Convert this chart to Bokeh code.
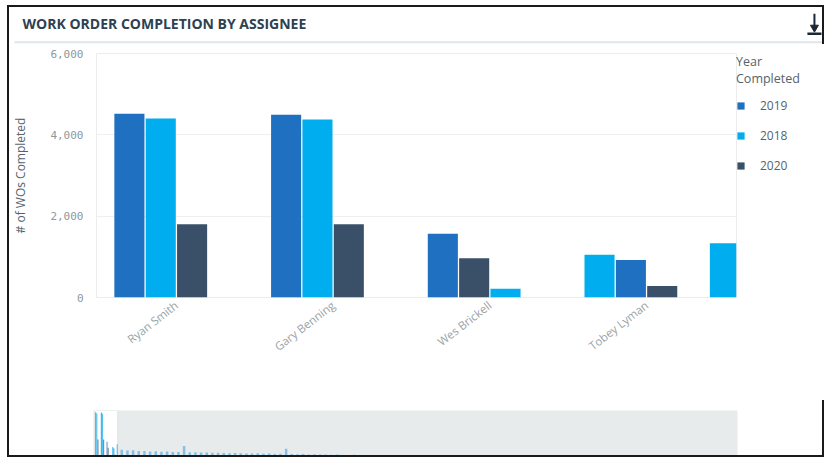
from bokeh.plotting import figure
from bokeh.models import (Range1d, FixedTicker, NumeralTickFormatter, ColumnDataSource,
                          Legend, LegendItem, BoxAnnotation)
from bokeh.core.properties import value
from bokeh.embed import file_html
from bokeh.resources import INLINE

# ---------------- data ----------------
assignees = ["Ryan Smith", "Gary Benning", "Wes Brickell", "Tobey Lyman", ""]
years = ["2019", "2018", "2020"]
wo_2019 = [4520, 4495, 1570, 925, None]
wo_2018 = [4400, 4380, 215, 1050, 1335]
wo_2020 = [1800, 1800, 965, 280, None]
y_ticks = [0, 2000, 4000, 6000]
# navigator: remaining assignees (tallest bar each, rough estimates)
nav_other_max = [780, 700, 720, 650, 660, 600, 630, 580, 610, 560, 540, 1150,
                 520, 530, 490, 500, 470, 480, 450, 430, 460, 420, 410, 400,
                 420, 380, 390, 360, 370, 880, 350, 330, 340, 310, 320, 300,
                 290, 280, 300, 260, 250, 270, 240, 230, 220, 240, 210, 200,
                 190, 200, 180, 170, 160, 170, 150, 140]

# ---------------- style / layout constants ----------------
colors = {"2019": "#1f70c1", "2018": "#00aeef", "2020": "#3a5068"}
BAR_W = 0.96
GROUP_GAPS = [2, 2, 2, 1]
X_VIEW = (-1.05, 19.37)
LABEL_SHIFT = 0.5
FONT = "Open Sans"
W = 813
BL, BR = 84, 89
EDGE = "2px solid #1a1a1a"

series = {"2019": wo_2019, "2018": wo_2018, "2020": wo_2020}
rows = {y: {"x": [], "top": []} for y in years}
centers = []
slot = 0
for gi, name in enumerate(assignees):
    bars = [(series[y][gi], y) for y in years if series[y][gi] is not None]
    bars.sort(key=lambda b: -b[0])
    start = slot
    for v, y in bars:
        rows[y]["x"].append(slot)
        rows[y]["top"].append(v)
        slot += 1
    centers.append((start + slot - 1) / 2)
    if gi < len(GROUP_GAPS):
        slot += GROUP_GAPS[gi]
last_slot = slot

# ---------------- header ----------------
h = figure(width=W, height=37, x_range=Range1d(0, W), y_range=Range1d(0, 37),
           min_border=0, x_axis_location=None, y_axis_location=None,
           output_backend="svg", toolbar_location=None,
           styles={"border-top": EDGE, "border-left": EDGE, "border-right": EDGE,
                   "margin-left": "7px", "margin-top": "5px", "box-sizing": "content-box"})
h.grid.visible = False
h.outline_line_color = None
h.text(x=[13], y=[21.5], text=["WORK ORDER COMPLETION BY ASSIGNEE"],
       text_font=value(FONT), text_font_style="bold", text_font_size="14px",
       text_color="#2d4150", text_baseline="middle")
h.segment(x0=[5], y0=[4], x1=[W], y1=[4], line_color="#dfe6ea", line_width=2)
h.segment(x0=[801], y0=[31], x1=[801], y1=[19], line_color="#1b2835", line_width=2)
h.scatter(x=[801], y=[18], marker="inverted_triangle", size=8,
          fill_color="#1b2835", line_color="#1b2835")
h.segment(x0=[794], y0=[12], x1=[808], y1=[12], line_color="#1b2835", line_width=2.5)

# ---------------- main chart ----------------
p = figure(frame_width=640, frame_height=244, x_range=Range1d(*X_VIEW),
           y_range=Range1d(0, 6000), min_border_left=BL, min_border_right=BR,
           min_border_top=9, min_border_bottom=103,
           output_backend="svg", toolbar_location=None,
           styles={"border-left": EDGE, "border-right": EDGE,
                   "margin-left": "7px", "box-sizing": "content-box"})
renderers = {}
for y in years:
    src = ColumnDataSource(rows[y])
    renderers[y] = p.vbar(x="x", top="top", width=BAR_W, source=src,
                          fill_color=colors[y], line_color=None)

p.outline_line_color = "#ececec"
p.xgrid.grid_line_color = None
p.ygrid.grid_line_color = "#efefef"
p.ygrid.ticker = FixedTicker(ticks=y_ticks)

ya = p.yaxis[0]
ya.ticker = FixedTicker(ticks=y_ticks)
ya.formatter = NumeralTickFormatter(format="0,0")
ya.axis_line_color = None
ya.major_tick_line_color = None
ya.minor_tick_line_color = None
ya.major_tick_out = 0
ya.minor_tick_out = 0
ya.major_label_standoff = 13
ya.major_label_text_font = "DejaVu Sans Mono"
ya.major_label_text_font_size = "11px"
ya.major_label_text_color = "#8d979e"
ya.axis_label = "# of WOs Completed"
ya.axis_label_text_font = FONT
ya.axis_label_text_font_size = "12px"
ya.axis_label_text_font_style = "normal"
ya.axis_label_text_color = "#56636c"
ya.axis_label_standoff = 18

label_ticks = [c + LABEL_SHIFT for c in centers]
xa = p.xaxis[0]
xa.ticker = FixedTicker(ticks=label_ticks)
xa.major_label_overrides = {t: n for t, n in zip(label_ticks, assignees)}
xa.major_label_orientation = 0.66
xa.axis_line_color = None
xa.major_tick_line_color = None
xa.minor_tick_line_color = None
xa.major_tick_out = 0
xa.minor_tick_out = 0
xa.major_label_standoff = 6
xa.major_label_text_font = FONT
xa.major_label_text_font_size = "11.5px"
xa.major_label_text_color = "#9aa3a9"

legend = Legend(items=[LegendItem(label=y, renderers=[renderers[y]]) for y in years],
                title="Year\nCompleted", location="top_left", orientation="vertical",
                margin=0, padding=8, glyph_width=9, glyph_height=9, label_standoff=15,
                spacing=10, label_height=20, title_standoff=8,
                border_line_color=None, background_fill_alpha=0,
                label_text_font=FONT, label_text_font_size="12px",
                label_text_color="#55636d", title_text_font=FONT,
                title_text_font_size="12.5px", title_text_font_style="normal",
                title_text_color="#55636d")
p.add_layout(legend, "right")

# ---------------- navigator ----------------
NAV_PX_PER_SLOT = 23 / (X_VIEW[1] - X_VIEW[0])
nav_start = X_VIEW[0] - 1 / NAV_PX_PER_SLOT
nav_end = nav_start + 640 / NAV_PX_PER_SLOT
n = figure(width=W, height=55, x_range=Range1d(nav_start, nav_end),
           y_range=Range1d(0, 4700), min_border_left=BL, min_border_right=BR,
           min_border_top=10, min_border_bottom=0, x_axis_location=None,
           y_axis_location=None, background_fill_color="#e7ebec",
           output_backend="svg", toolbar_location=None,
           styles={"border-left": EDGE, "border-right": EDGE, "border-bottom": EDGE,
                   "margin-left": "7px", "box-sizing": "content-box"})
n.grid.visible = False
n.outline_line_color = None
n.add_layout(BoxAnnotation(left=X_VIEW[0], right=X_VIEW[1], fill_color="white",
                           fill_alpha=1, line_color="#b8c1c7", line_width=1,
                           level="underlay"))
for y in years:
    n.vbar(x=rows[y]["x"], top=rows[y]["top"], width=BAR_W, fill_color=colors[y],
           fill_alpha=0.7, line_color=None)
other_x = [last_slot + 2 + 1 + 5 * k for k in range(len(nav_other_max))]
n.vbar(x=other_x, top=nav_other_max, width=2.2, fill_color="#4aa3e0",
       fill_alpha=0.6, line_color=None)

open("out.html", "w").write(file_html([h, p, n], INLINE))
